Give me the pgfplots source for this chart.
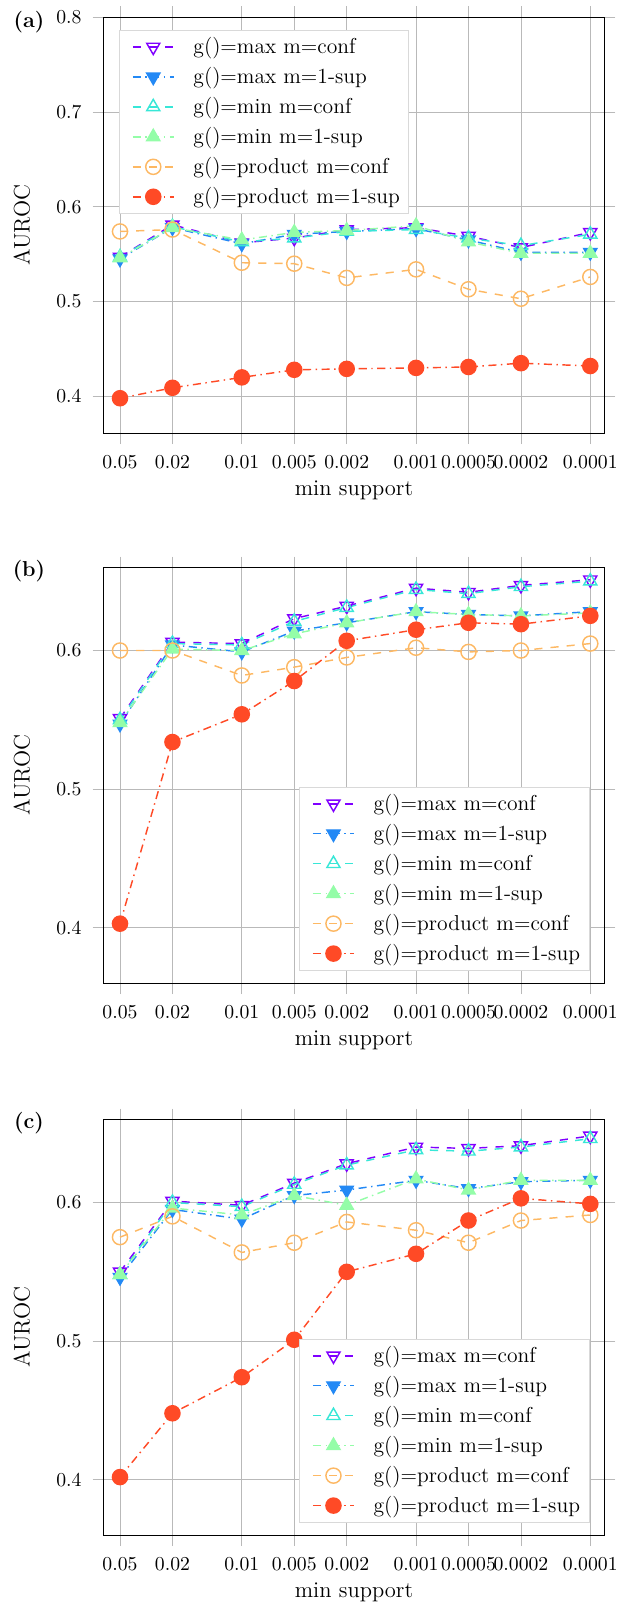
\documentclass[border=0pt]{standalone}
\usepackage{pgfplots}
\pgfplotsset{compat=1.18}
\usepackage{pgfplotstable}
\definecolor{c1}{HTML}{8000FF}
\definecolor{c2}{HTML}{2389F5}
\definecolor{c3}{HTML}{38E7D7}
\definecolor{c4}{HTML}{94FDA8}
\definecolor{c5}{HTML}{FDB863}
\definecolor{c6}{HTML}{FF4A26}

\pgfplotstableread{
x mc ms nc ns pc ps
0       0.547 0.545 0.547 0.546 0.574 0.398
0.30103 0.581 0.578 0.579 0.578 0.576 0.409
0.69897 0.562 0.561 0.563 0.565 0.541 0.420
1       0.567 0.571 0.567 0.573 0.540 0.428
1.30103 0.576 0.574 0.574 0.575 0.525 0.429
1.69897 0.578 0.577 0.576 0.580 0.534 0.430
2       0.569 0.565 0.567 0.563 0.513 0.431
2.30103 0.557 0.552 0.559 0.551 0.503 0.435
2.69897 0.573 0.552 0.571 0.551 0.526 0.432
}\tA

\pgfplotstableread{
x mc ms nc ns pc ps
0       0.551 0.547 0.550 0.548 0.600 0.403
0.30103 0.606 0.604 0.605 0.601 0.600 0.534
0.69897 0.605 0.599 0.604 0.600 0.582 0.554
1       0.623 0.614 0.621 0.612 0.588 0.578
1.30103 0.632 0.620 0.631 0.620 0.595 0.607
1.69897 0.645 0.628 0.644 0.628 0.602 0.615
2       0.642 0.626 0.641 0.626 0.599 0.620
2.30103 0.647 0.625 0.646 0.625 0.600 0.619
2.69897 0.651 0.628 0.650 0.627 0.605 0.625
}\tB

\pgfplotstableread{
x mc ms nc ns pc ps
0       0.550 0.546 0.548 0.548 0.575 0.402
0.30103 0.601 0.595 0.600 0.596 0.590 0.448
0.69897 0.598 0.588 0.597 0.591 0.564 0.474
1       0.614 0.605 0.613 0.605 0.571 0.501
1.30103 0.628 0.609 0.627 0.598 0.586 0.550
1.69897 0.640 0.616 0.638 0.617 0.580 0.563
2       0.639 0.610 0.637 0.609 0.571 0.587
2.30103 0.641 0.615 0.640 0.616 0.587 0.603
2.69897 0.648 0.616 0.646 0.616 0.591 0.599
}\tC

\pgfplotsset{
  myaxis/.style={
    scale only axis, width=278.33pt, height=231.11pt,
    xmin=-0.0947, xmax=2.7805,
    xtick={0,0.30103,0.69897,1,1.30103,1.69897,2,2.30103,2.69897},
    xticklabels={0.05,0.02,0.01,0.005,0.002,0.001,0.0005,0.0002,0.0001},
    ytick={0.4,0.5,0.6,0.7,0.8},
    grid=major, major grid style={gray!55, line width=0.5pt},
    tick align=outside, major tick length=6pt,
    tick style={gray!55, line width=0.5pt},
    axis line style={black, line width=0.6pt},
    xticklabel shift=2.6pt, yticklabel shift=2.4pt,
    xlabel={min support}, ylabel={AUROC},
    label style={font=\fontsize{12.5}{15}\selectfont},
    xlabel style={at={(axis description cs:0.5,-0.15)}, anchor=base},
    ylabel style={at={(axis description cs:-0.163,0.5)}, anchor=center},
    legend cell align=left,
    legend style={draw=gray!30, fill=white, line width=0.5pt, row sep=2pt,
      font=\fontsize{12}{14.4}\selectfont},
    legend image code/.code={\path (-0.15cm,0cm) (1.1cm,0cm);\draw[mark repeat=2,mark phase=2,##1] plot coordinates {(0cm,0cm) (0.4cm,0cm) (0.8cm,0cm)};},
    every axis plot/.append style={line width=0.8pt, mark size=4.2pt},
  },
  sd/.style={dash pattern=on 4.5pt off 4.5pt},
  sdd/.style={dash pattern=on 4.5pt off 2.5pt on 0.8pt off 2.5pt},
}

\newcommand{\sixplots}[1]{%
  \addplot[c1, sd, mark=triangle, mark options={solid, rotate=180}] table[x=x,y=mc]{#1};
  \addlegendentry{g()=max m=conf}
  \addplot[c2, sdd, mark=triangle*, mark options={solid, rotate=180, fill=c2}] table[x=x,y=ms]{#1};
  \addlegendentry{g()=max m=1-sup}
  \addplot[c3, sd, mark=triangle, mark options={solid}] table[x=x,y=nc]{#1};
  \addlegendentry{g()=min m=conf}
  \addplot[c4, sdd, mark=triangle*, mark options={solid, fill=c4}] table[x=x,y=ns]{#1};
  \addlegendentry{g()=min m=1-sup}
  \addplot[c5, sd, mark=o, mark options={solid}] table[x=x,y=pc]{#1};
  \addlegendentry{g()=product m=conf}
  \addplot[c6, sdd, mark=*, mark options={solid, fill=c6}] table[x=x,y=ps]{#1};
  \addlegendentry{g()=product m=1-sup}
}

\begin{document}
\fontsize{10.95}{13.6}\selectfont
\begin{tikzpicture}
\begin{axis}[myaxis, at={(57.5pt,-240.72pt)}, anchor=south west,
  ymin=0.361, ymax=0.8, legend pos=north west]
\sixplots{\tA}
\end{axis}
\begin{axis}[myaxis, at={(57.5pt,-546.28pt)}, anchor=south west,
  ymin=0.36, ymax=0.66, legend pos=south east]
\sixplots{\tB}
\end{axis}
\begin{axis}[myaxis, at={(57.5pt,-852.94pt)}, anchor=south west,
  ymin=0.36, ymax=0.66, legend pos=south east]
\sixplots{\tC}
\end{axis}
\node[font=\large\bfseries] at (16.1pt,-12.06pt) {(a)};
\node[font=\large\bfseries] at (16.1pt,-317.4pt) {(b)};
\node[font=\large\bfseries] at (16.1pt,-624.1pt) {(c)};
\pgfresetboundingbox
\path (0pt,0pt) rectangle (342.78pt,-890.56pt);
\end{tikzpicture}
\end{document}
